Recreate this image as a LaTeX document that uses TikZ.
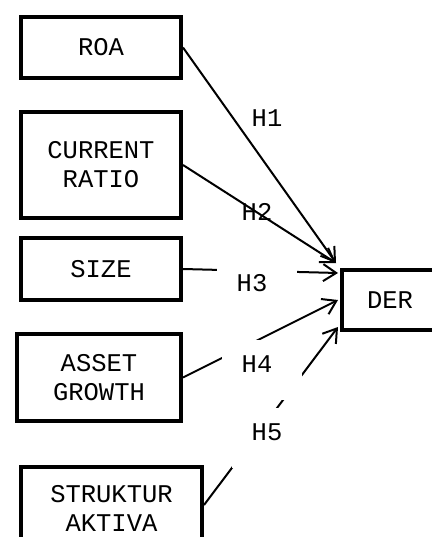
\documentclass[tikz,border=0pt]{standalone}
\usepackage{fontspec}
\setmainfont{Liberation Mono}
\usetikzlibrary{arrows.meta, positioning}

\begin{document}
\begin{tikzpicture}[x=1pt, y=-1pt, every node/.style={font=\fontsize{25.5}{29}\selectfont},
  box/.style={draw, line width=4pt, align=center, inner sep=0pt, minimum width=#1},
  box/.default=160pt,
  lbl/.style={fill=white, minimum width=80pt, minimum height=60pt, text height=17pt, text depth=12pt},
  arr/.style={-{Straight Barb[length=13pt, width=17pt]}, line width=2pt}]
  \useasboundingbox (0,0) rectangle (431,537);
  \node[box, minimum height=61pt] (roa) at (101,47.5) {ROA};
  \node[box, minimum height=106pt] (cr) at (101,165) {CURRENT\\RATIO};
  \node[box, minimum height=62pt] (size) at (101,269) {SIZE};
  \node[box=164pt, minimum height=87pt] (ag) at (99,377.5) {ASSET\\GROWTH};
  \node[box=181pt, minimum height=82pt] (sa) at (111.5,508) {STRUKTUR\\AKTIVA};
  \node[box=96pt, minimum height=60pt] (der) at (390,300) {DER};
  \node (h1) at (267,118) {H1};
  \node (h2) at (257,212) {H2};
  \draw[arr] (roa.east) -- ([xshift=-4pt, yshift=5pt]der.north west);
  \draw[arr] (cr.east) -- ([xshift=-4pt, yshift=5pt]der.north west);
  \draw[arr] (size.east) -- ([xshift=-2pt, yshift=-5pt]der.north west);
  \draw[arr] (ag.east) -- ([xshift=-2pt]der.west);
  \draw[arr] ([yshift=3pt]sa.east) -- ([xshift=-2pt, yshift=5pt]der.south west);
  % labels on white boxes, drawn over the lines
  \node[lbl] (h3) at (257,289) {H3\hspace*{10pt}};
  \node[lbl] (h4) at (262,370) {H4\hspace*{10pt}};
  \node[lbl] (h5) at (272,438) {H5\hspace*{10pt}};
\end{tikzpicture}
\end{document}
